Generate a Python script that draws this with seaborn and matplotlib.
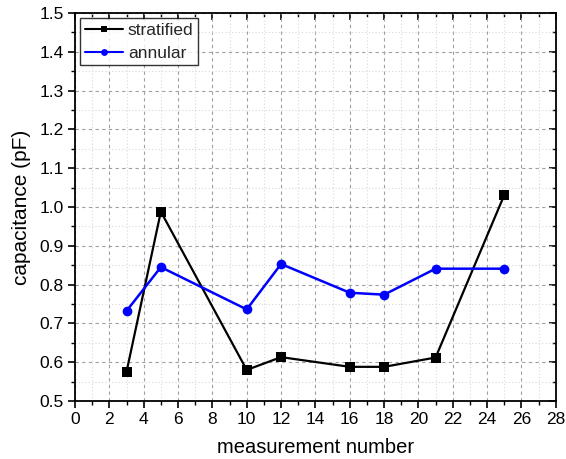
import numpy as np
import pandas as pd
import seaborn as sns
import matplotlib
matplotlib.use("Agg")
import matplotlib.pyplot as plt
from matplotlib.ticker import MultipleLocator, FormatStrFormatter

measurement = [3, 5, 10, 12, 16, 18, 21, 25]
stratified = [0.575, 0.988, 0.580, 0.613, 0.588, 0.588, 0.612, 1.031]
annular = [0.732, 0.845, 0.736, 0.853, 0.779, 0.774, 0.841, 0.841]
series_names = ["stratified", "annular"]

df = pd.DataFrame({
    "measurement number": measurement * 2,
    "capacitance (pF)": stratified + annular,
    "series": [series_names[0]] * len(measurement) + [series_names[1]] * len(measurement),
})

sns.set_theme(style="white")
plt.rcParams["font.family"] = ["Liberation Sans", "DejaVu Sans"]

fig = plt.figure(figsize=(5.66, 4.59), dpi=100)
ax = fig.add_axes([0.1325, 0.1264, 0.8495, 0.8453])

ax.set_xlim(0, 28)
ax.set_ylim(0.5, 1.5)
ax.xaxis.set_major_locator(MultipleLocator(2))
ax.xaxis.set_minor_locator(MultipleLocator(1))
ax.yaxis.set_major_locator(MultipleLocator(0.1))
ax.yaxis.set_minor_locator(MultipleLocator(0.05))
ax.yaxis.set_major_formatter(FormatStrFormatter("%.1f"))

ax.grid(which="major", color="#a0a0a0", linestyle=(0, (3, 3)), linewidth=0.8)
ax.grid(which="minor", color="#d8d8d8", linestyle=(0, (1, 2)), linewidth=0.8)
ax.set_axisbelow(True)

sns.lineplot(data=df, x="measurement number", y="capacitance (pF)", hue="series",
             style="series", markers={"stratified": "s", "annular": "o"},
             dashes=False, palette={"stratified": "black", "annular": "#0000ff"},
             markersize=7, markeredgewidth=0, ax=ax, sort=False)
for line, lw in zip(ax.lines, [1.6, 1.8]):
    line.set_linewidth(lw)

for s in ax.spines.values():
    s.set_color("black")
    s.set_linewidth(1.3)

ax.tick_params(which="both", bottom=True, left=True, top=False, right=False,
               direction="out", color="black", labelsize=12.5, labelcolor="black")
ax.tick_params(which="major", length=5, width=1.2, pad=3)
ax.tick_params(which="minor", length=3, width=1.0)

sec_x = ax.secondary_xaxis("top")
sec_x.xaxis.set_major_locator(MultipleLocator(2))
sec_x.xaxis.set_minor_locator(MultipleLocator(1))
sec_x.tick_params(which="both", direction="in", labeltop=False, color="black")
sec_x.tick_params(which="major", length=5, width=1.2)
sec_x.tick_params(which="minor", length=3, width=1.0)
sec_y = ax.secondary_yaxis("right")
sec_y.yaxis.set_major_locator(MultipleLocator(0.1))
sec_y.yaxis.set_minor_locator(MultipleLocator(0.05))
sec_y.tick_params(which="both", direction="in", labelright=False, color="black")
sec_y.tick_params(which="major", length=5, width=1.2)
sec_y.tick_params(which="minor", length=3, width=1.0)
for sec in (sec_x, sec_y):
    for s in sec.spines.values():
        s.set_visible(False)

ax.set_xlabel("measurement number", fontsize=14.5, color="black", labelpad=8)
ax.set_ylabel("capacitance (pF)", fontsize=15, color="black", labelpad=6)

handles, labels = ax.get_legend_handles_labels()
leg = ax.legend(handles=handles, labels=labels, title=None, loc="upper left",
                fontsize=12.5, frameon=True, fancybox=False, edgecolor="black",
                borderpad=0.25, handlelength=2.2, handletextpad=0.3,
                labelspacing=0.45, borderaxespad=0.3, markerscale=0.7)
leg.get_frame().set_linewidth(1.0)

fig.savefig("out.png", dpi=100)
